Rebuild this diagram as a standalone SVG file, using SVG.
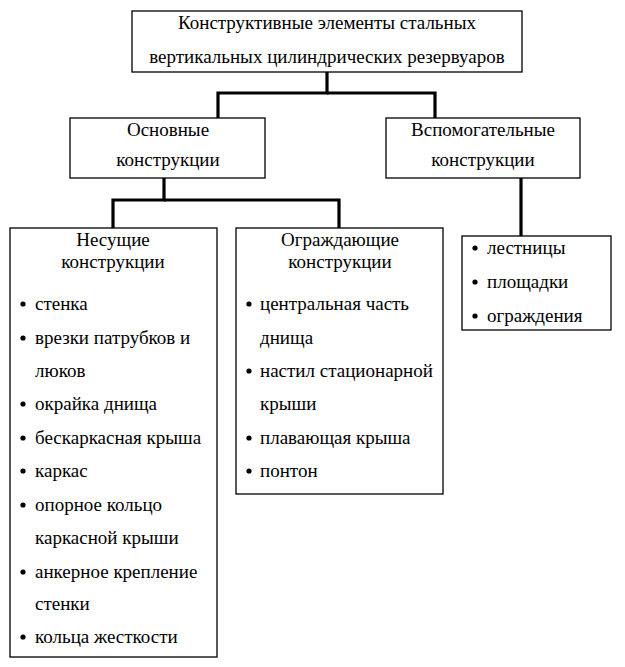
<svg xmlns="http://www.w3.org/2000/svg" width="625" height="667" viewBox="0 0 625 667">
<style>
.box{fill:#fff;stroke:#000;stroke-width:1.3}
.t{font-family:'Liberation Serif',serif;font-size:19px;fill:#000}
.c{text-anchor:middle}
.con{fill:none;stroke:#000;stroke-width:3.2}
</style>
<defs><circle id="b" r="2.6" fill="#000"/></defs>
<rect width="625" height="667" fill="#fff"/>
<g id="connectors">
<polyline class="con" points="327,72 327,93 218,93 218,118"/>
<polyline class="con" points="327,93 435,93 435,118"/>
<polyline class="con" points="164,178 164,200 113,200 113,228"/>
<polyline class="con" points="164,200 339,200 339,228"/>
<polyline class="con" points="521,178 521,236"/>
</g>
<g id="root">
<rect class="box" x="132" y="11" width="390" height="61"/>
<text class="t c" x="327" y="29">Конструктивные элементы стальных</text>
<text class="t c" x="327" y="63">вертикальных цилиндрических резервуаров</text>
</g>
<g id="main">
<rect class="box" x="70" y="118" width="195" height="60"/>
<text class="t c" x="168" y="136">Основные</text>
<text class="t c" x="168" y="166">конструкции</text>
</g>
<g id="aux">
<rect class="box" x="386" y="118" width="194" height="60"/>
<text class="t c" x="483" y="136">Вспомогательные</text>
<text class="t c" x="483" y="166">конструкции</text>
</g>
<g id="bearing">
<rect class="box" x="10" y="228" width="207" height="429"/>
<text class="t c" x="113" y="246">Несущие</text>
<text class="t c" x="113" y="268">конструкции</text>
<use href="#b" x="23" y="304"/><text class="t" x="35" y="310">стенка</text>
<use href="#b" x="23" y="338"/><text class="t" x="35" y="344">врезки патрубков и</text>
<text class="t" x="35" y="377">люков</text>
<use href="#b" x="23" y="404"/><text class="t" x="35" y="410">окрайка днища</text>
<use href="#b" x="23" y="438"/><text class="t" x="35" y="444">бескаркасная крыша</text>
<use href="#b" x="23" y="471"/><text class="t" x="35" y="477">каркас</text>
<use href="#b" x="23" y="505"/><text class="t" x="35" y="511">опорное кольцо</text>
<text class="t" x="35" y="544">каркасной крыши</text>
<use href="#b" x="23" y="572"/><text class="t" x="35" y="578">анкерное крепление</text>
<text class="t" x="35" y="610">стенки</text>
<use href="#b" x="23" y="637"/><text class="t" x="35" y="643">кольца жесткости</text>
</g>
<g id="enclosing">
<rect class="box" x="236" y="228" width="207" height="266"/>
<text class="t c" x="340" y="246">Ограждающие</text>
<text class="t c" x="340" y="268">конструкции</text>
<use href="#b" x="249" y="304"/><text class="t" x="260" y="310">центральная часть</text>
<text class="t" x="260" y="344">днища</text>
<use href="#b" x="249" y="371"/><text class="t" x="260" y="377">настил стационарной</text>
<text class="t" x="260" y="410">крыши</text>
<use href="#b" x="249" y="438"/><text class="t" x="260" y="444">плавающая крыша</text>
<use href="#b" x="249" y="471"/><text class="t" x="260" y="477">понтон</text>
</g>
<g id="auxlist">
<rect class="box" x="462" y="236" width="149" height="94"/>
<use href="#b" x="475" y="248"/><text class="t" x="487" y="254">лестницы</text>
<use href="#b" x="475" y="282"/><text class="t" x="487" y="288">площадки</text>
<use href="#b" x="475" y="316"/><text class="t" x="487" y="322">ограждения</text>
</g>
</svg>
